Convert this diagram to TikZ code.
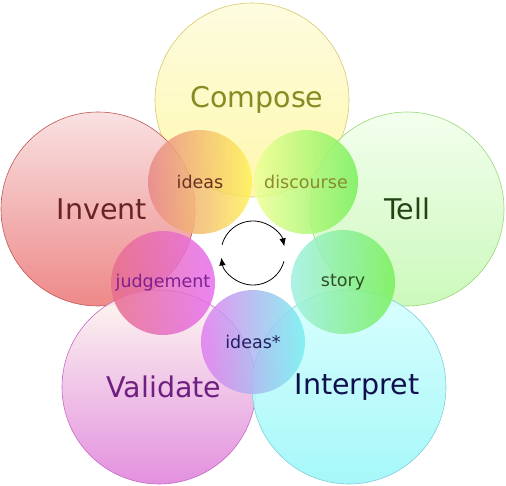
\documentclass[tikz,border=0pt]{standalone}
\usepackage{fontspec}
\setmainfont{DejaVu Sans}
\usetikzlibrary{arrows.meta}
\definecolor{invB}{HTML}{C05858}
\definecolor{comB}{HTML}{D8C870}
\definecolor{telB}{HTML}{98D878}
\definecolor{valB}{HTML}{C868C8}
\definecolor{intB}{HTML}{80D0D8}
\definecolor{invT}{HTML}{6A2222}
\definecolor{comT}{HTML}{8A8A22}
\definecolor{telT}{HTML}{224412}
\definecolor{valT}{HTML}{6E2080}
\definecolor{intT}{HTML}{10104E}
\definecolor{ideT}{HTML}{6A3020}
\definecolor{disT}{HTML}{8A8A30}
\definecolor{judT}{HTML}{7E2090}
\definecolor{stoT}{HTML}{2E5020}
\definecolor{idsT}{HTML}{202060}
\definecolor{comTop}{HTML}{FDFCDC}
\definecolor{comBot}{HTML}{FFF6A4}
\definecolor{invTop}{HTML}{F8DEDE}
\definecolor{invBot}{HTML}{EC7C7C}
\definecolor{telTop}{HTML}{F2FFEC}
\definecolor{telBot}{HTML}{C6F8B4}
\definecolor{valTop}{HTML}{FDF9EE}
\definecolor{valBot}{HTML}{E084DC}
\definecolor{intTop}{HTML}{D6FFFF}
\definecolor{intBot}{HTML}{9CF6F8}
\tikzset{
  bigc/.style={circle, minimum size=194pt, inner sep=0pt, draw, line width=0.6pt,
    fill opacity=0.9, text opacity=1, font=\fontsize{28.5}{32}\selectfont},
  smallc/.style={circle, minimum size=104pt, inner sep=0pt,
    fill opacity=0.85, text opacity=1, font=\fontsize{17.5}{20}\selectfont},
  cyc/.style={draw=black, line width=0.8pt, -{Latex[length=8pt,width=6.5pt]}}
}
\begin{document}
\begin{tikzpicture}[x=1pt,y=-1pt]
\useasboundingbox (0,0) rectangle (506,486);
% big circles
\node[bigc, draw=comB, top color=comTop, bottom color=comBot, text=comT] (compose) at (252,100) {\kern10pt Compose};
\node[bigc, draw=invB, top color=invTop, bottom color=invBot, text=invT] (invent) at (98,209) {\kern8pt Invent};
\node[bigc, draw=telB, top color=telTop, bottom color=telBot, text=telT] (tell) at (407,209) {Tell};
\node[bigc, draw=valB, top color=valTop, bottom color=valBot, text=valT] (validate) at (159,387) {\kern10pt Validate};
\node[bigc, draw=intB, top color=intTop, bottom color=intBot, text=intT] (interpret) at (349,387) {\kern16pt Interpret};
% small circles
\node[smallc, left color={rgb,255:red,232;green,136;blue,136}, right color={rgb,255:red,255;green,242;blue,90}, text=ideT] (ideas) at (200,182) {ideas};
\node[smallc, left color={rgb,255:red,240;green,255;blue,150}, right color={rgb,255:red,120;green,240;blue,90}, text=disT] (discourse) at (306,182) {discourse};
\node[smallc, left color={rgb,255:red,232;green,110;blue,140}, right color={rgb,255:red,230;green,110;blue,240}, text=judT] (judgement) at (163,283) {judgement};
\node[smallc, left color={rgb,255:red,160;green,240;blue,225}, right color={rgb,255:red,120;green,240;blue,90}, text=stoT] (story) at (343,282) {story};
\node[smallc, left color={rgb,255:red,225;green,125;blue,240}, right color={rgb,255:red,120;green,240;blue,240}, text=idsT] (idsstar) at (253,342) {ideas*};
% cycle arrows
\coordinate (c) at (253,253);
\draw[cyc] ([shift={(-165:32)}]c) arc[start angle=-165, end angle=-12, radius=32];
\draw[cyc] ([shift={(15:32)}]c) arc[start angle=15, end angle=172, radius=32];
\end{tikzpicture}
\end{document}
